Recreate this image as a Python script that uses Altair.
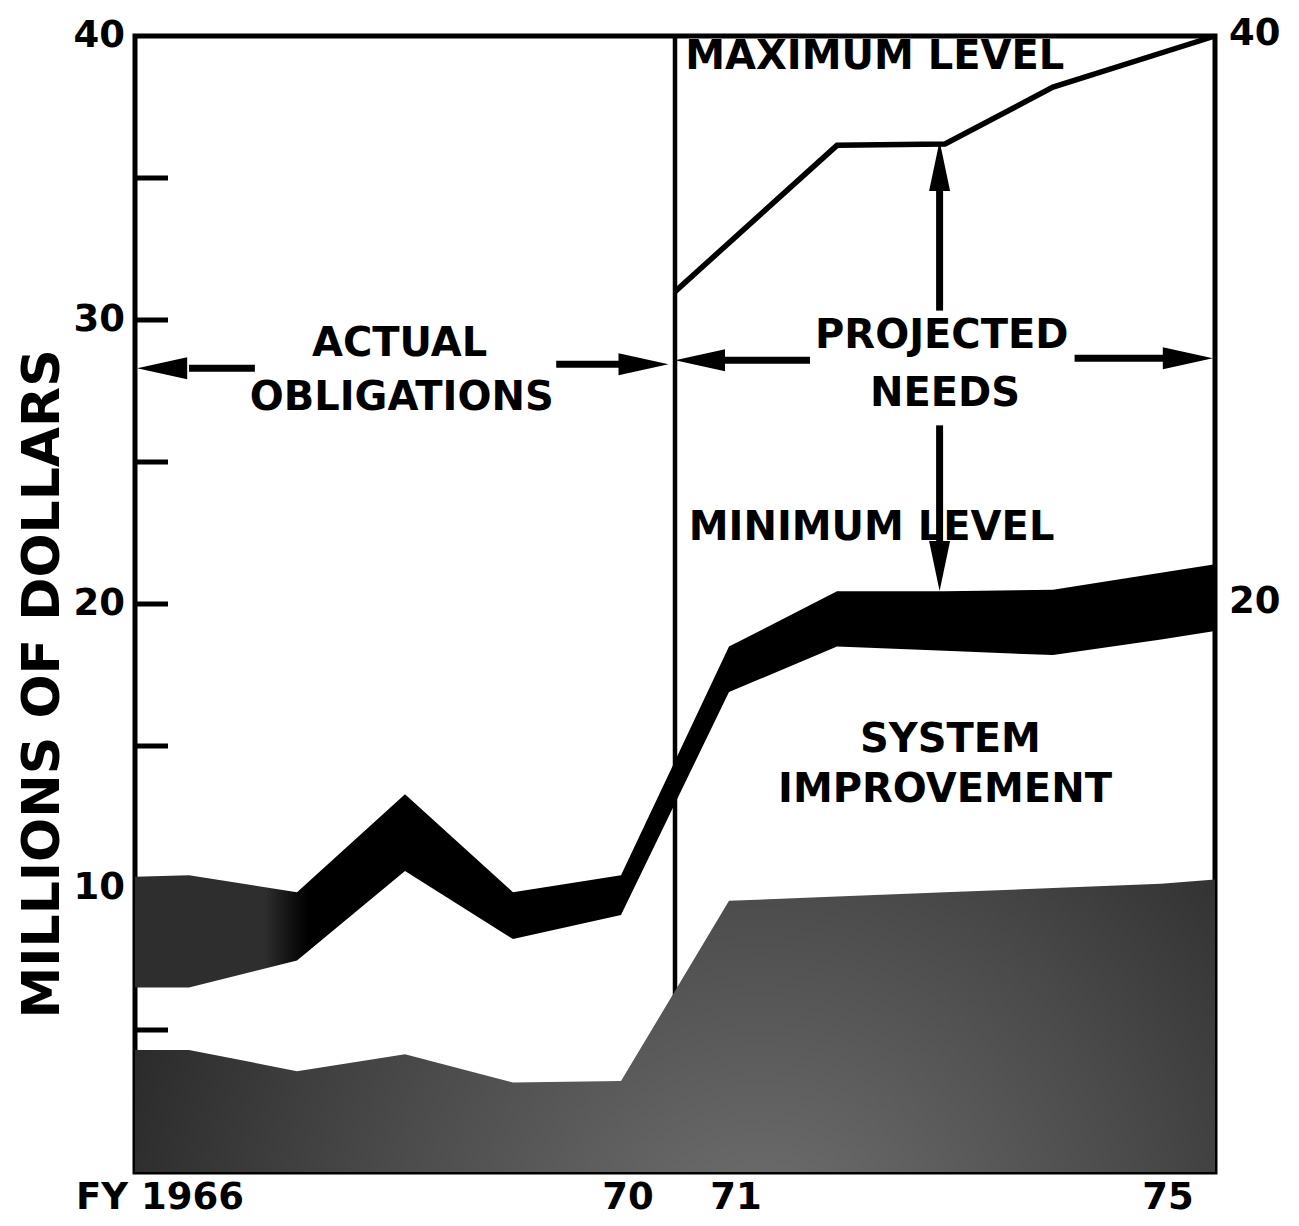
import altair as alt
import pandas as pd

# ---------------- data ----------------
YEARS = [1965.5, 1966, 1967, 1968, 1969, 1970, 1971, 1972, 1973, 1974, 1975, 1975.5]
BASE_LEVEL = [4.3, 4.3, 3.55, 4.15, 3.15, 3.2, 9.55, 9.7, 9.85, 10.0, 10.15, 10.3]
MIN_BAND_LOW = [6.5, 6.5, 7.45, 10.6, 8.2, 9.05, 16.9, 18.5, 18.35, 18.2, 18.75, 19.05]
MIN_BAND_HIGH = [10.4, 10.45, 9.85, 13.3, 9.85, 10.45, 18.5, 20.45, 20.45, 20.5, 21.1, 21.4]

MAX_YEARS = [1970.5, 1972, 1973, 1974, 1975.5]
MAX_LEVEL = [31.0, 36.15, 36.2, 38.2, 40.0]

DIVIDER_YEAR = [1970.5]

Y_TICK_VALUES = [5, 10, 15, 20, 25, 30, 35]
Y_LABEL_VALUES = [10, 20, 30, 40]
RIGHT_LABEL_VALUES = [20, 40]

FIRST_LABEL_YEAR = [1966]
FIRST_LABEL_TEXT = ["FY 1966"]
X_LABEL_YEARS = [1970, 1971, 1975]
X_LABEL_TEXT = ["70", "71", "75"]

NOTE_TEXT = ["ACTUAL", "OBLIGATIONS", "MAXIMUM LEVEL", "PROJECTED", "NEEDS",
             "MINIMUM LEVEL", "SYSTEM", "IMPROVEMENT"]
NOTE_X = [1967.95, 1967.97, 1972.35, 1972.97, 1973.0, 1972.32, 1973.05, 1973.0]
NOTE_Y = [29.17, 27.24, 39.25, 29.42, 27.38, 22.67, 15.22, 13.46]

Y_TITLE = ["MILLIONS OF DOLLARS"]

SHAFT_X = [1966.61, 1969.40, 1971.75, 1974.20, 1972.95, 1972.95]
SHAFT_X2 = [1966.0, 1970.0, 1970.95, 1975.05, 1972.95, 1972.95]
SHAFT_Y = [28.3, 28.44, 28.58, 28.65, 30.33, 26.29]
SHAFT_Y2 = [28.3, 28.44, 28.58, 28.65, 34.8, 21.9]
HEAD_X = [1965.52, 1970.44, 1970.50, 1975.48, 1972.95, 1972.95]
HEAD_Y = [28.3, 28.44, 28.58, 28.65, 36.3, 20.46]
HEAD_DIR = ["left", "right", "left", "right", "up", "down"]

# ---------------- layout / style ----------------
W, H = 1080, 1136
FONT = "DejaVu Sans"

main = pd.DataFrame({"year": YEARS, "base": BASE_LEVEL,
                     "low": MIN_BAND_LOW, "high": MIN_BAND_HIGH})
maxdf = pd.DataFrame({"year": MAX_YEARS, "v": MAX_LEVEL})
divdf = pd.DataFrame({"year": DIVIDER_YEAR, "y0": [0], "y1": [40]})
tickdf = pd.DataFrame({"v": Y_TICK_VALUES})
leftdf = pd.DataFrame({"v": Y_LABEL_VALUES, "t": [str(v) for v in Y_LABEL_VALUES]})
rightdf = pd.DataFrame({"v": RIGHT_LABEL_VALUES, "t": [str(v) for v in RIGHT_LABEL_VALUES]})
firstdf = pd.DataFrame({"year": FIRST_LABEL_YEAR, "t": FIRST_LABEL_TEXT})
xlabdf = pd.DataFrame({"year": X_LABEL_YEARS, "t": X_LABEL_TEXT})
notedf = pd.DataFrame({"t": NOTE_TEXT, "x": NOTE_X, "y": NOTE_Y})
titledf = pd.DataFrame({"t": Y_TITLE})
shaftdf = pd.DataFrame({"x": SHAFT_X, "x2": SHAFT_X2, "y": SHAFT_Y, "y2": SHAFT_Y2})
headdf = pd.DataFrame({"x": HEAD_X, "y": HEAD_Y, "dir": HEAD_DIR})

xs = alt.Scale(domain=[1965.5, 1975.5], nice=False, zero=False)
ys = alt.Scale(domain=[0, 40], nice=False)

lower_fill = alt.RadialGradient(
    gradient="radial",
    stops=[alt.GradientStop(color="#727272", offset=0),
           alt.GradientStop(color="#4a4a4a", offset=0.5),
           alt.GradientStop(color="#1e1e1e", offset=1)],
    x1=0.58, y1=0.72, r1=0, x2=0.58, y2=0.72, r2=0.72)

band_fill = alt.LinearGradient(
    gradient="linear",
    stops=[alt.GradientStop(color="#2e2e2e", offset=0),
           alt.GradientStop(color="#2e2e2e", offset=0.12),
           alt.GradientStop(color="#000000", offset=0.16),
           alt.GradientStop(color="#000000", offset=1)],
    x1=0, y1=0, x2=1, y2=0)

divider = alt.Chart(divdf).mark_rule(color="black", strokeWidth=4.5).encode(
    x=alt.X("year:Q", scale=xs, axis=None),
    y=alt.Y("y0:Q", scale=ys, axis=None), y2="y1:Q")

ticks = alt.Chart(tickdf).mark_rule(color="black", strokeWidth=5).encode(
    x=alt.value(0), x2=alt.value(33), y=alt.Y("v:Q", scale=ys, axis=None))

lower = alt.Chart(main).mark_area(color=lower_fill).encode(
    x=alt.X("year:Q", scale=xs, axis=None),
    y=alt.Y("base:Q", scale=ys, axis=None))

band = alt.Chart(main).mark_area(color=band_fill).encode(
    x=alt.X("year:Q", scale=xs, axis=None),
    y=alt.Y("low:Q", scale=ys, axis=None), y2="high:Q")

maxline = alt.Chart(maxdf).mark_line(color="black", strokeWidth=5.5,
                                     strokeJoin="miter").encode(
    x=alt.X("year:Q", scale=xs, axis=None),
    y=alt.Y("v:Q", scale=ys, axis=None))

shafts = alt.Chart(shaftdf).mark_rule(color="black", strokeWidth=7).encode(
    x=alt.X("x:Q", scale=xs, axis=None), x2="x2:Q",
    y=alt.Y("y:Q", scale=ys, axis=None), y2="y2:Q")

head_paths = ["M0,0L2,-0.44L2,0.44Z", "M0,0L-2,-0.44L-2,0.44Z",
              "M0,0L-0.42,2L0.42,2Z", "M0,0L-0.42,-2L0.42,-2Z"]
heads = alt.Chart(headdf).mark_point(filled=True, color="black", opacity=1,
                                     size=2500, strokeWidth=0).encode(
    x=alt.X("x:Q", scale=xs, axis=None),
    y=alt.Y("y:Q", scale=ys, axis=None),
    shape=alt.Shape("dir:N", scale=alt.Scale(domain=["left", "right", "up", "down"],
                                             range=head_paths), legend=None))

notes = alt.Chart(notedf).mark_text(font=FONT, fontSize=40, fontWeight="bold",
                                    color="black", align="center",
                                    baseline="middle").encode(
    x=alt.X("x:Q", scale=xs, axis=None),
    y=alt.Y("y:Q", scale=ys, axis=None), text="t:N")

ytitle = alt.Chart(titledf).mark_text(font=FONT, fontSize=52, fontWeight="bold",
                                      color="black", angle=270, align="center",
                                      baseline="middle").encode(
    x=alt.value(-92), y=alt.value(648), text="t:N")

left_labels = alt.Chart(leftdf).mark_text(font=FONT, fontSize=37, fontWeight="bold",
                                          color="black", align="right",
                                          baseline="middle").encode(
    x=alt.value(-10), y=alt.Y("v:Q", scale=ys, axis=None), text="t:N")

first_label = alt.Chart(firstdf).mark_text(font=FONT, fontSize=37, fontWeight="bold",
                                           color="black", align="right",
                                           baseline="alphabetic", dx=55).encode(
    x=alt.X("year:Q", scale=xs, axis=None), y=alt.value(H + 37), text="t:N")

x_labels = alt.Chart(xlabdf).mark_text(font=FONT, fontSize=37, fontWeight="bold",
                                       color="black", align="center",
                                       baseline="alphabetic", dx=7).encode(
    x=alt.X("year:Q", scale=xs, axis=None), y=alt.value(H + 37), text="t:N")

right_labels = alt.Chart(rightdf).mark_text(font=FONT, fontSize=37, fontWeight="bold",
                                            color="black", align="left",
                                            baseline="middle", dy=-2).encode(
    x=alt.value(W + 14), y=alt.Y("v:Q", scale=ys, axis=None), text="t:N")

chart = alt.layer(
    divider, ticks, lower, band, maxline, shafts, heads, notes,
    ytitle, left_labels, first_label, x_labels, right_labels
).properties(
    width=W, height=H,
    padding={"left": 127, "top": 28, "right": 76, "bottom": 46},
    autosize=alt.AutoSizeParams(type="none"),
    background="white",
).configure_view(stroke="black", strokeWidth=5)

chart.save("out.html", embed_options={"renderer": "svg", "actions": False})
